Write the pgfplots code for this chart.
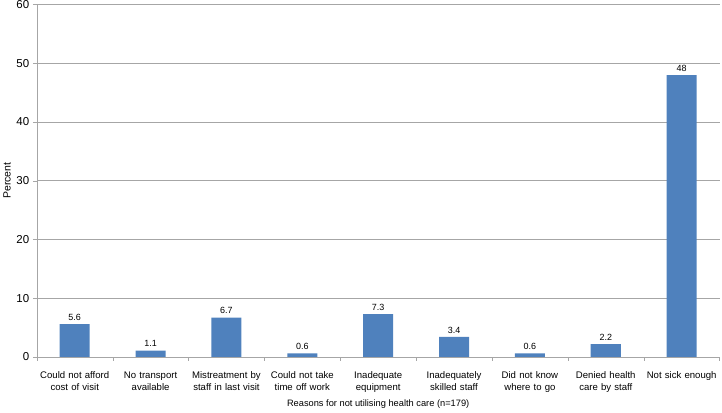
\documentclass[border=0pt]{standalone}
\usepackage{fontspec}
\setmainfont{Liberation Sans}
\usepackage{pgfplots}
\pgfplotsset{compat=1.18}
\definecolor{barblue}{HTML}{4F81BD}
\definecolor{gridgray}{HTML}{A6A6A6}
\begin{document}
\begin{tikzpicture}
\begin{axis}[
    scale only axis,
    width=682bp, height=352bp,
    ymin=0, ymax=60, ytick={0,10,...,60},
    xmin=-0.5, xmax=8.5,
    xtick={-0.5,0.5,...,7.5},
    minor xtick={8.5},
    xticklabels={Could not afford\\cost of visit, No transport\\available, Mistreatment by\\staff in last visit, Could not take\\time off work, Inadequate\\equipment, Inadequately\\skilled staff, Did not know\\where to go, Denied health\\care by staff, \makebox[0pt][c]{Not sick enough}},
    xticklabel style={xshift=37.9bp, align=center, text width=74bp, font=\fontsize{9.6}{12}\selectfont, yshift=-7bp},
    yticklabel style={font=\fontsize{11.5}{12}\selectfont, inner ysep=0.5bp},
    /pgf/number format/assume math mode=true,
    axis x line*=bottom, axis y line*=left,
    axis line style={gridgray, -},
    tick align=outside, major tick length=4bp, minor tick length=4bp,
    tick style={gridgray},
    ymajorgrids, grid style={gridgray, line width=0.6pt},
    ylabel={Percent}, ylabel style={font=\fontsize{10.5}{12}\selectfont, yshift=-1bp},
    xlabel={Reasons for not utilising health care (n=179)},
    xlabel style={font=\fontsize{9.3}{10}\selectfont, yshift=-1bp},
    ybar, bar width=30bp,
    nodes near coords,
    nodes near coords style={font=\fontsize{9}{10}\selectfont, /pgf/number format/fixed, /pgf/number format/precision=1},
]
\addplot[fill=barblue, draw=none] coordinates {
    (0,5.6) (1,1.1) (2,6.7) (3,0.6) (4,7.3) (5,3.4) (6,0.6) (7,2.2) (8,48)
};
\end{axis}
\end{tikzpicture}
\end{document}
